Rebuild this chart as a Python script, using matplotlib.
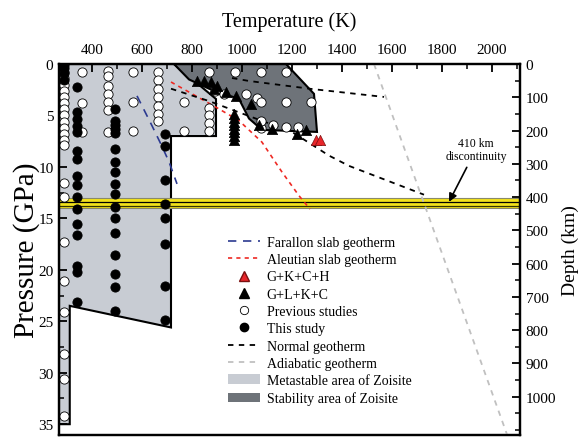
import matplotlib
matplotlib.use('Agg')
import matplotlib.pyplot as plt
from matplotlib.patches import Polygon, Patch
from matplotlib.lines import Line2D
from matplotlib.ticker import MultipleLocator

plt.rcParams['font.family'] = ['Liberation Serif', 'DejaVu Serif']

# ---------------- data ----------------
# metastable area of zoisite (light gray)
meta_T = [268, 728, 896, 896, 716, 716, 311, 311, 268]
meta_P = [0, 0, 3.4, 7.0, 7.0, 25.6, 23.5, 35.0, 35.0]
# stability area of zoisite (dark gray)
stab_T = [728, 1176, 1288, 1300, 1080, 1028, 988, 868, 788]
stab_P = [0, 0, 2.9, 6.6, 6.4, 5.3, 3.4, 2.4, 1.5]

far_T = [580, 640, 676, 708, 740]
far_P = [3.1, 6.0, 7.8, 9.5, 11.65]
ale_T = [716, 896, 988, 1080, 1160, 1228, 1272]
ale_P = [1.75, 4.2, 5.5, 7.6, 10.5, 12.8, 14.1]
norm1_T = [716, 868, 988, 1200, 1348, 1428, 1728]
norm1_P = [2.4, 3.6, 4.7, 6.6, 8.9, 9.9, 12.7]
norm2_T = [960, 1028, 1280, 1568]
norm2_P = [1.36, 1.65, 2.43, 3.2]
adi_T = [1528, 2060]
adi_P = [0, 36]

# previous studies (open circles)
prev_T = ([288] * 21 + [360] * 3 + [464] * 7 + [564] * 3 + [664] * 7 + [768] * 2
          + [868] * 5 + [972, 1076, 1176, 1176, 1276, 1016, 1060, 1076, 892, 928,
                         1076, 1124, 1176, 1224, 1076])
prev_P = ([0.8, 1.4, 2.0, 2.6, 3.2, 3.8, 4.4, 5.0, 5.6, 6.2, 6.8, 7.4, 7.9,
           11.6, 12.9, 17.3, 21.1, 24.1, 28.2, 30.6, 34.2]
          + [0.8, 3.8, 6.6]
          + [0.7, 1.2, 2.1, 2.9, 3.7, 4.5, 6.6]
          + [0.8, 3.7, 6.5]
          + [0.8, 1.6, 2.4, 3.2, 4.1, 4.9, 5.5]
          + [3.7, 6.5]
          + [0.8, 4.3, 5.0, 5.7, 6.5]
          + [0.8, 0.8, 0.8, 3.7, 3.7, 2.9, 3.3, 3.7, 2.6, 2.9,
             6.2, 5.9, 6.1, 6.1, 5.5])

# this study (filled circles)
this_T = ([288] * 4 + [340] * 16 + [492] * 17 + [692] * 8)
this_P = ([0.05, 0.35, 0.9, 1.6]
          + [2.2, 4.7, 5.3, 6.0, 6.6, 8.5, 9.2, 10.9, 11.8, 12.9, 14.1, 15.5, 16.6, 19.6, 20.2, 23.1]
          + [4.4, 5.5, 5.9, 6.3, 6.7, 8.3, 9.5, 10.5, 11.7, 12.6, 13.9, 15.0, 16.4, 18.6, 20.4, 21.7, 24.0]
          + [6.8, 8.0, 11.3, 13.6, 15.0, 17.5, 21.6, 24.9])

# G+L+K+C (black triangles)
glkc_T = [820, 848, 876, 888, 900, 936, 976, 1036,
          968, 968, 968, 968, 968, 968, 968, 968,
          1068, 1120, 1220, 1256]
glkc_P = [1.65, 1.65, 1.75, 2.4, 2.1, 2.7, 3.1, 3.9,
          4.9, 5.25, 5.6, 5.95, 6.3, 6.65, 7.0, 7.4,
          5.9, 6.3, 6.8, 6.4]
# G+K+C+H (red triangles)
gkch_T = [1296, 1312]
gkch_P = [7.4, 7.4]

disc_P = [13.0, 14.0]
x_ticks = [400, 600, 800, 1000, 1200, 1400, 1600, 1800, 2000]
p_ticks = [0, 5, 10, 15, 20, 25, 30, 35]
d_ticks = [0, 100, 200, 300, 400, 500, 600, 700, 800, 900, 1000]

# ---------------- figure ----------------
fig = plt.figure(figsize=(5.85, 4.39), dpi=100)
ax = fig.add_axes([59 / 585, 1 - 436 / 439, 461 / 585, 371 / 439])
ax.set_xlim(268, 2112)
ax.set_ylim(36.05, 0)

light = '#c8ccd3'
dark = '#6e7379'
ax.add_patch(Polygon(list(zip(meta_T, meta_P)), closed=True, facecolor=light,
                     edgecolor='black', linewidth=1.5, zorder=1))
ax.add_patch(Polygon(list(zip(stab_T, stab_P)), closed=True, facecolor=dark,
                     edgecolor='black', linewidth=1.5, zorder=1))

# 410 km discontinuity band
ax.axhspan(disc_P[0], disc_P[1], facecolor='#f2e21c', edgecolor='#8a8a6a', linewidth=0.8, zorder=2)
ax.axhline(disc_P[0] + 0.4, color='black', linewidth=0.9, zorder=2)
ax.axhline(disc_P[0] + 0.75, color='#333300', linewidth=0.9, zorder=2)

ax.plot(far_T, far_P, color='#2b3990', linestyle=(0, (5, 4)), linewidth=1.2, zorder=3)
ax.plot(ale_T, ale_P, color='#ee2a24', linestyle=(0, (2.5, 2.5)), linewidth=1.2, zorder=3)
ax.plot(norm1_T, norm1_P, color='black', linestyle=(0, (3, 3)), linewidth=1.3, zorder=3)
ax.plot(norm2_T, norm2_P, color='black', linestyle=(0, (3, 3)), linewidth=1.3, zorder=3)
ax.plot(adi_T, adi_P, color='#c0c0c0', linestyle=(0, (3, 3)), linewidth=1.3, zorder=3)

ms = 44
ax.scatter(prev_T, prev_P, s=ms, facecolor='white', edgecolor='black', linewidth=0.6, zorder=4)
ax.scatter(this_T, this_P, s=ms, facecolor='black', edgecolor='black', linewidth=0.6, zorder=5)
ax.scatter(glkc_T, glkc_P, s=55, marker='^', facecolor='black', edgecolor='black', linewidth=0.5, zorder=5)
ax.scatter(gkch_T, gkch_P, s=55, marker='^', facecolor='#e8262b', edgecolor='#7a1010', linewidth=0.5, zorder=5)

ax.annotate('410 km\ndiscontinuity', xy=(1828, 13.4), xytext=(1936, 8.3),
            ha='center', va='center', fontsize=8.5, linespacing=1.15,
            arrowprops=dict(arrowstyle='-|>', color='black', lw=1.2, mutation_scale=12,
                            shrinkA=2, shrinkB=0), zorder=6)

# axes styling
ax.xaxis.tick_top()
ax.xaxis.set_label_position('top')
ax.set_xticks(x_ticks)
ax.xaxis.set_minor_locator(MultipleLocator(100))
ax.set_yticks(p_ticks)
ax.yaxis.set_minor_locator(MultipleLocator(2.5))
ax.tick_params(axis='both', which='major', direction='in', length=6, width=1.3, labelsize=11)
ax.tick_params(axis='both', which='minor', direction='in', length=3.5, width=1.1)
ax.tick_params(axis='x', which='both', top=True, bottom=False, pad=6)
ax.tick_params(axis='y', which='both', left=True, right=False, pad=4)
ax.set_xlabel('Temperature (K)', fontsize=14.5, labelpad=12)
ax.set_ylabel('Pressure (GPa)', fontsize=21, labelpad=-1)
for s in ax.spines.values():
    s.set_linewidth(1.6)

ax2 = ax.twinx()
ax2.set_ylim(1115, 0)
ax2.set_yticks(d_ticks)
ax2.yaxis.set_minor_locator(MultipleLocator(50))
ax2.tick_params(axis='y', which='major', direction='in', length=6, width=1.3, labelsize=11, pad=4)
ax2.tick_params(axis='y', which='minor', direction='in', length=3.5, width=1.1)
ax2.set_ylabel('Depth (km)', fontsize=14, labelpad=4)
for s in ax2.spines.values():
    s.set_linewidth(1.6)

handles = [
    Line2D([], [], color='#2b3990', linestyle=(0, (5, 4)), linewidth=1.2),
    Line2D([], [], color='#ee2a24', linestyle=(0, (2.5, 2.5)), linewidth=1.2),
    Line2D([], [], marker='^', linestyle='none', markerfacecolor='#e8262b', markeredgecolor='#7a1010', markersize=7),
    Line2D([], [], marker='^', linestyle='none', markerfacecolor='black', markeredgecolor='black', markersize=7),
    Line2D([], [], marker='o', linestyle='none', markerfacecolor='white', markeredgecolor='black', markersize=6, markeredgewidth=0.6),
    Line2D([], [], marker='o', linestyle='none', markerfacecolor='black', markeredgecolor='black', markersize=6),
    Line2D([], [], color='black', linestyle=(0, (3, 3)), linewidth=1.3),
    Line2D([], [], color='#c0c0c0', linestyle=(0, (3, 3)), linewidth=1.3),
    Patch(facecolor=light, edgecolor='none'),
    Patch(facecolor=dark, edgecolor='none'),
]
labels = ['Farallon slab geotherm', 'Aleutian slab geotherm', 'G+K+C+H', 'G+L+K+C',
          'Previous studies', 'This study', 'Normal geotherm', 'Adiabatic geotherm',
          'Metastable area of Zoisite', 'Stability area of Zoisite']
ax.legend(handles, labels, loc='upper left', bbox_to_anchor=(0.366, 0.537), frameon=False,
          fontsize=10, handlelength=2.3, handletextpad=0.5, labelspacing=0.31,
          borderaxespad=0, borderpad=0)

fig.savefig('out.png', dpi=100)
